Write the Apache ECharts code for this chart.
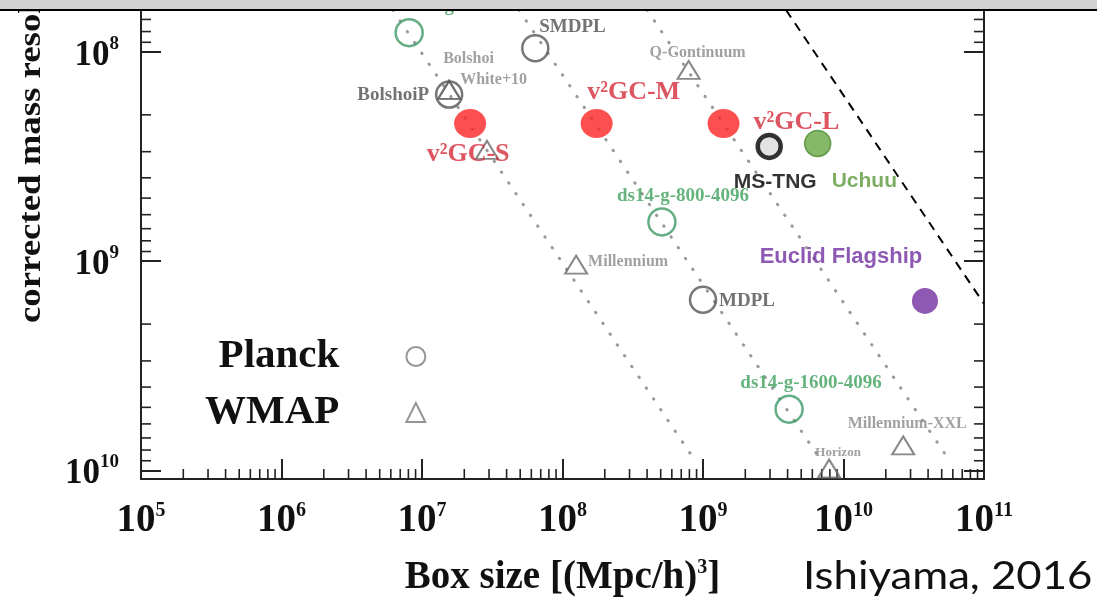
<!DOCTYPE html>
<html>
<head>
<meta charset="utf-8">
<script src="https://cdn.jsdelivr.net/npm/echarts@6/dist/echarts.min.js"></script>
<style>
  html, body { margin: 0; padding: 0; background: #fff; }
  #chart { width: 1097px; height: 601px; }
</style>
</head>
<body>
<div id="chart"></div>
<script>
// Cosmological N-body simulations: box volume vs. corrected particle mass resolution

// Planck-cosmology runs (grey open circles)
const planckNames = ['SMDPL', 'BolshoiP', 'MDPL'];
const planckBox = [6.4e7, 1.56e7, 1.0e9];
const planckMass = [9.6e7, 1.6e8, 1.53e9];

// Dark Sky runs (green open circles)
const ds14Names = ['ds14-g-200-2048', 'ds14-g-800-4096', 'ds14-g-1600-4096'];
const ds14Box = [8.1e6, 5.1e8, 4.1e9];
const ds14Mass = [8.1e7, 6.5e8, 5.1e9];

// WMAP-cosmology runs (grey open triangles)
const wmapNames = ['Bolshoi', 'White+10', 'Q-Continuum', 'Millennium', 'Millennium-XXL', 'Horizon', ''];
const wmapBox = [1.56e7, 1.56e7, 7.9e8, 1.25e8, 2.66e10, 7.9e9, 2.9e7];
const wmapMass = [1.52e8, 1.52e8, 1.22e8, 1.04e9, 7.6e9, 9.8e9, 2.94e8];

// v2GC suite (red filled circles)
const v2gcNames = ['v\u00B2GC-S', 'v\u00B2GC-M', 'v\u00B2GC-L'];
const v2gcBox = [2.2e7, 1.75e8, 1.4e9];
const v2gcMass = [2.2e8, 2.2e8, 2.2e8];

// Additional runs
const msTngBox = [2.96e9];
const msTngMass = [2.83e8];
const uchuuBox = [6.55e9];
const uchuuMass = [2.74e8];
const euclidBox = [3.8e10];
const euclidMass = [1.55e9];

// Lines of constant particle number (2048^3, 4096^3, 8192^3) and the dashed frontier
const guide2048 = [[6.2e6, 6.31e7], [8.1e8, 8.3e9]];
const guide4096 = [[4.9e7, 6.31e7], [6.4e9, 8.3e9]];
const guide8192 = [[4.0e8, 6.31e7], [5.25e10, 8.3e9]];
const frontier = [[3.9e9, 6.31e7], [1.0e11, 1.6e9]];

// Axis ranges and tick decades
const xMin = 1e5, xMax = 1e11;
const yMin = 6.31e7, yMax = 1.1e10;
const xDecades = [1e5, 1e6, 1e7, 1e8, 1e9, 1e10];
const yDecades = [1e7, 1e8, 1e9, 1e10];
const minorSteps = [2, 3, 4, 5, 6, 7, 8, 9];

const xMinor = [];
xDecades.forEach(d => minorSteps.forEach(k => xMinor.push(d * k)));
const yMinor = [];
yDecades.forEach(d => minorSteps.forEach(k => { const v = d * k; if (v > yMin && v < yMax) yMinor.push(v); }));

const SERIF = '"Liberation Serif", "Times New Roman", serif';
const SANS = '"Liberation Sans", Arial, sans-serif';

// Label anchor relative to each marker centre
const labelPlacement = {
  'SMDPL': { offset: [4, -21], align: 'left' },
  'BolshoiP': { offset: [-20, 1], align: 'right' },
  'MDPL': { offset: [16, 1], align: 'left' },
  'Bolshoi': { offset: [-6, -31], align: 'left' },
  'White+10': { offset: [11, -10], align: 'left' },
  'Q-Continuum': { offset: [-39, -17], align: 'left' },
  'Millennium': { offset: [12, -3], align: 'left' },
  'Millennium-XXL': { offset: [4, -22], align: 'center' },
  'Horizon': { offset: [9, -16], align: 'center' },
  'ds14-g-200-2048': { offset: [58, -27], align: 'center' },
  'ds14-g-800-4096': { offset: [21, -26], align: 'center' },
  'ds14-g-1600-4096': { offset: [22, -26], align: 'center' },
  'v\u00B2GC-S': { offset: [-2, 31], align: 'center' },
  'v\u00B2GC-M': { offset: [37, -31], align: 'center' },
  'v\u00B2GC-L': { offset: [30, -1], align: 'left' },
  'MS-TNG': { offset: [6, 36], align: 'center' },
  'Uchuu': { offset: [14, 38], align: 'left' },
  'Euclid Flagship': { offset: [-84, -44], align: 'center' }
};

function points(names, xs, ys) {
  return xs.map((x, i) => {
    const p = labelPlacement[names[i]] || { offset: [0, 0], align: 'center' };
    return { name: names[i], value: [x, ys[i]], label: { offset: p.offset, align: p.align } };
  });
}

function labelStyle(size, color, family, weight) {
  return {
    show: true, position: 'inside', formatter: '{b}', verticalAlign: 'middle',
    fontFamily: family || SERIF, fontWeight: weight || 'bold', fontSize: size, color: color
  };
}

const isDecade = v => {
  const e = Math.log10(v);
  return Math.abs(e - Math.round(e)) < 1e-6;
};

function guideSeries(data, style) {
  return {
    type: 'line', data: data, symbol: 'none', silent: true, z: 1,
    lineStyle: style, emphasis: { disabled: true }
  };
}

const dotted = { color: '#9a9a9a', width: 3, type: [0.5, 12.5], cap: 'round' };

const chart = echarts.init(document.getElementById('chart'), null, { renderer: 'canvas' });

chart.setOption({
  animation: false,
  backgroundColor: '#ffffff',
  grid: { left: 141, right: 113, top: 10, bottom: 122, containLabel: false, outerBoundsMode: 'none' },
  xAxis: {
    type: 'log', logBase: 10, min: xMin, max: xMax,
    name: '{n|Box size [(Mpc/h)}{s|3}{n|]}',
    nameLocation: 'middle', nameGap: 79,
    nameTextStyle: {
      rich: {
        n: { fontFamily: SERIF, fontWeight: 'bold', fontSize: 39, color: '#111', lineHeight: 40 },
        s: { fontFamily: SERIF, fontWeight: 'bold', fontSize: 20, color: '#111', verticalAlign: 'top', lineHeight: 20 }
      }
    },
    splitLine: { show: false },
    axisLine: { lineStyle: { color: '#222', width: 2 } },
    axisTick: { inside: true, length: 20, lineStyle: { color: '#222', width: 2 } },
    axisLabel: {
      margin: 22,
      formatter: v => isDecade(v) ? '{b|10}{s|' + Math.round(Math.log10(v)) + '}' : '',
      rich: {
        b: { fontFamily: SERIF, fontWeight: 'bold', fontSize: 39, color: '#111', lineHeight: 39 },
        s: { fontFamily: SERIF, fontWeight: 'bold', fontSize: 20, color: '#111', verticalAlign: 'top', lineHeight: 20 }
      }
    }
  },
  yAxis: [{
    type: 'log', logBase: 10, min: yMin, max: yMax, inverse: true,
    splitLine: { show: false },
    axisLine: { lineStyle: { color: '#222', width: 2 } },
    axisTick: { inside: true, length: 20, lineStyle: { color: '#222', width: 2 } },
    axisLabel: {
      margin: 22,
      formatter: v => isDecade(v) ? '{b|10}{s|' + Math.round(Math.log10(v)) + '}' : '',
      rich: {
        b: { fontFamily: SERIF, fontWeight: 'bold', fontSize: 35, color: '#111', lineHeight: 35, padding: [8, 0, 0, 0] },
        s: { fontFamily: SERIF, fontWeight: 'bold', fontSize: 19, color: '#111', verticalAlign: 'top', lineHeight: 19 }
      }
    }
  }, {
    type: 'log', logBase: 10, min: yMin, max: yMax, inverse: true, position: 'right',
    splitLine: { show: false },
    axisLine: { lineStyle: { color: '#222', width: 2 } },
    axisTick: { inside: true, length: 20, lineStyle: { color: '#222', width: 2 } },
    axisLabel: { show: false }
  }],
  legend: {
    orient: 'vertical', left: 200, top: 331, align: 'right',
    itemWidth: 19, itemHeight: 19, itemGap: 15, selectedMode: false,
    textStyle: { fontFamily: SERIF, fontWeight: 'bold', fontSize: 41, color: '#111', width: 136, padding: [0, 62, 0, 0] },
    data: [
      { name: 'Planck', icon: 'circle', itemStyle: { color: '#ffffff', borderColor: '#7a7a7a', borderWidth: 2 } },
      { name: 'WMAP', icon: 'triangle', itemStyle: { color: '#ffffff', borderColor: '#7a7a7a', borderWidth: 2 } }
    ]
  },
  graphic: [
    {
      type: 'text', x: 32, y: 323, rotation: Math.PI / 2, scaleX: 1.15,
      style: { text: 'corrected mass resolution', fontFamily: SERIF, fontWeight: 'bold', fontSize: 32, fill: '#111', align: 'left', verticalAlign: 'middle' }
    },
    {
      type: 'text', x: 803, y: 577, scaleX: 1.15,
      style: { text: 'Ishiyama, 2016', fontFamily: 'Lato, "Open Sans", sans-serif', fontSize: 38, fill: '#111', align: 'left', verticalAlign: 'middle' }
    },
    { type: 'rect', zlevel: 1, z: 100, shape: { x: 0, y: 0, width: 1097, height: 9 }, style: { fill: '#d3d3d3' } },
    { type: 'rect', zlevel: 1, z: 100, shape: { x: 0, y: 9, width: 1097, height: 2 }, style: { fill: '#000000' } }
  ],
  series: [
    guideSeries(guide2048, dotted),
    guideSeries(guide4096, dotted),
    guideSeries(guide8192, dotted),
    guideSeries(frontier, { color: '#000', width: 2, type: [9, 7] }),
    {
      // minor ticks on the box-size axis
      type: 'custom', silent: true, z: 3,
      data: xMinor.map(v => [v, yMax]),
      renderItem: (params, api) => {
        const p = api.coord([api.value(0), api.value(1)]);
        return { type: 'line', shape: { x1: p[0], y1: p[1], x2: p[0], y2: p[1] - 10 }, style: { stroke: '#222', lineWidth: 1.6 } };
      }
    },
    {
      // minor ticks on both mass axes
      type: 'custom', silent: true, z: 3,
      data: yMinor.map(v => [xMin, v]),
      renderItem: (params, api) => {
        const l = api.coord([xMin, api.value(1)]);
        const r = api.coord([xMax, api.value(1)]);
        return {
          type: 'group', children: [
            { type: 'line', shape: { x1: l[0], y1: l[1], x2: l[0] + 10, y2: l[1] }, style: { stroke: '#222', lineWidth: 1.6 } },
            { type: 'line', shape: { x1: r[0], y1: r[1], x2: r[0] - 10, y2: r[1] }, style: { stroke: '#222', lineWidth: 1.6 } }
          ]
        };
      }
    },
    {
      name: 'WMAP', type: 'scatter', symbol: 'triangle', symbolSize: [22, 18], z: 4,
      itemStyle: { color: 'rgba(255,255,255,0)', borderColor: '#6a6a6a', borderWidth: 2 },
      label: labelStyle(16, '#8a8a8a'),
      emphasis: { disabled: true },
      data: points(wmapNames, wmapBox, wmapMass).map(d => d.name === 'Horizon' ? Object.assign(d, { label: Object.assign(d.label, { fontSize: 13 }) }) : d)
    },
    {
      name: 'Planck', type: 'scatter', symbol: 'circle', symbolSize: 26, z: 5,
      itemStyle: { color: 'rgba(255,255,255,0)', borderColor: '#555', borderWidth: 2.5 },
      label: labelStyle(19, '#505050'),
      emphasis: { disabled: true },
      data: points(planckNames, planckBox, planckMass)
    },
    {
      name: 'ds14', type: 'scatter', symbol: 'circle', symbolSize: 27, z: 5,
      itemStyle: { color: 'rgba(255,255,255,0)', borderColor: '#3f9a66', borderWidth: 2.5 },
      label: labelStyle(19, '#3ea05c'),
      emphasis: { disabled: true },
      data: points(ds14Names, ds14Box, ds14Mass)
    },
    {
      name: 'v2GC', type: 'scatter', symbol: 'circle', symbolSize: [32, 29], z: 6,
      itemStyle: { color: '#fb2424' },
      label: labelStyle(26, '#d42a38'),
      emphasis: { disabled: true },
      data: points(v2gcNames, v2gcBox, v2gcMass)
    },
    {
      name: 'MS-TNG', type: 'scatter', symbol: 'circle', symbolSize: 23, z: 7,
      itemStyle: { color: '#dcdcdc', borderColor: '#000', borderWidth: 4.5 },
      label: labelStyle(21, '#000', SANS),
      emphasis: { disabled: true },
      data: points(['MS-TNG'], msTngBox, msTngMass)
    },
    {
      name: 'Uchuu', type: 'scatter', symbol: 'circle', symbolSize: 26, z: 7,
      itemStyle: { color: '#66a844', borderColor: '#4c8a30', borderWidth: 1.5 },
      label: labelStyle(21, '#5b9a3b', SANS),
      emphasis: { disabled: true },
      data: points(['Uchuu'], uchuuBox, uchuuMass)
    },
    {
      name: 'Euclid Flagship', type: 'scatter', symbol: 'circle', symbolSize: 26, z: 7,
      itemStyle: { color: '#7030a0' },
      label: labelStyle(22, '#7030a0', SANS),
      emphasis: { disabled: true },
      data: points(['Euclid Flagship'], euclidBox, euclidMass)
    }
  ]
});
</script>
</body>
</html>
